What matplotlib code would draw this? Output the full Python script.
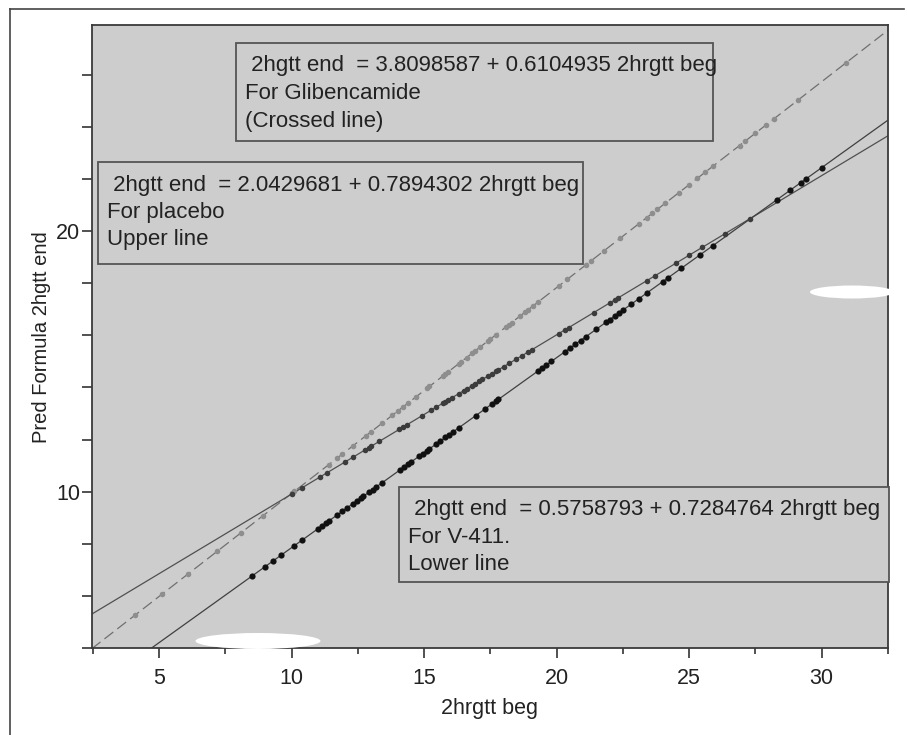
import matplotlib
matplotlib.use("Agg")
import matplotlib.pyplot as plt
from matplotlib.patches import Rectangle, Ellipse
from matplotlib.lines import Line2D
import numpy as np

plt.rcParams['font.family'] = ['Liberation Sans', 'DejaVu Sans']

coef_glib = (3.8098587, 0.6104935)
coef_placebo = (2.0429681, 0.7894302)
coef_v411 = (0.5758793, 0.7284764)

# valores de 2hrgtt beg, por grupo
x_placebo = [4.1, 5.1, 6.1, 7.2, 8.1, 8.9, 10.0, 10.1, 11.4, 11.7, 11.9, 12.3,
             12.8, 13.0, 13.4, 13.8, 14.0, 14.2, 14.4, 14.7, 15.1, 15.2, 15.7,
             15.8, 15.9, 16.3, 16.4, 16.6, 16.8, 16.9, 17.1, 17.4, 17.5, 17.7,
             18.1, 18.2, 18.3, 18.6, 18.8, 18.9, 19.1, 19.3, 20.1, 20.4, 21.1,
             21.3, 21.8, 22.4, 23.1, 23.4, 23.6, 23.8, 24.1, 24.6, 25.0, 25.3,
             25.6, 25.9, 26.9, 27.1, 27.5, 27.9, 28.2, 29.1, 30.9]
x_glib = [10.0, 10.4, 11.05, 11.35, 12.0, 12.3, 12.75, 12.9, 13.0, 13.3, 14.06,
          14.2, 14.36, 14.9, 15.26, 15.45, 15.7, 15.8, 15.9, 16.05, 16.3, 16.5,
          16.6, 16.8, 16.9, 17.07, 17.2, 17.4, 17.56, 17.7, 17.8, 18.0, 18.2,
          18.46, 18.7, 18.9, 19.06, 20.08, 20.3, 20.45, 21.4, 22.0, 22.2, 22.3,
          23.4, 23.7, 24.5, 25.0, 25.5, 26.35, 27.3]
x_v411 = [8.5, 9.0, 9.3, 9.6, 10.1, 10.4, 11.0, 11.15, 11.3, 11.4, 11.7, 11.9,
          12.07, 12.3, 12.45, 12.6, 12.7, 12.9, 13.05, 13.2, 13.4, 14.1, 14.25,
          14.4, 14.5, 14.8, 14.95, 15.1, 15.2, 15.45, 15.6, 15.8, 15.94, 16.1,
          16.3, 16.95, 17.3, 17.55, 17.7, 17.8, 19.3, 19.45, 19.6, 19.8, 20.3,
          20.5, 20.7, 20.9, 21.1, 21.5, 21.85, 22.0, 22.2, 22.35, 22.5, 22.8,
          23.1, 23.4, 24.0, 24.2, 24.7, 25.4, 25.9, 28.3, 28.8, 29.2, 29.4, 30.0]

x_ticks = [5, 10, 15, 20, 25, 30]
y_ticks = list(range(4, 28, 2))
y_labels = ['10' if t == 10 else '20' if t == 20 else '' for t in y_ticks]

caixas = [
    (" 2hgtt end  = 3.8098587 + 0.6104935 2hrgtt beg", "For Glibencamide", "(Crossed line)"),
    (" 2hgtt end  = 2.0429681 + 0.7894302 2hrgtt beg", "For placebo", "Upper line"),
    (" 2hgtt end  = 0.5758793 + 0.7284764 2hrgtt beg", "For V-411.", "Lower line"),
]


def pred(coef, xs):
    return [coef[0] + coef[1] * v for v in xs]


fig = plt.figure(figsize=(9.07, 7.35), dpi=100)
ax = fig.add_axes([0.101, 0.118, 0.878, 0.848])
fundo = '#cdcdcd'
ax.set_facecolor(fundo)
ax.set_xlim(2.45, 32.5)
ax.set_ylim(4, 27.9)

# retas de regressao
xs = np.array(ax.get_xlim())
ax.plot(xs, pred(coef_placebo, xs), color='#707070', lw=0.9, ls=(0, (9, 4)), zorder=2)
ax.plot(xs, pred(coef_glib, xs), color='#505050', lw=0.9, zorder=2)
ax.plot(xs, pred(coef_v411, xs), color='#404040', lw=0.9, zorder=2)

# pontos previstos
ax.scatter(x_placebo, pred(coef_placebo, x_placebo), s=16, color='#8e8e8e', zorder=3, lw=0)
ax.scatter(x_glib, pred(coef_glib, x_glib), s=16, color='#3c3c3c', zorder=3, lw=0)
ax.scatter(x_v411, pred(coef_v411, x_v411), s=20, color='#111111', zorder=3, lw=0)

# ticks
ax.set_xticks(x_ticks)
ax.set_xticks([t + 2.5 for t in [0] + x_ticks], minor=True)
ax.set_yticks(y_ticks)
ax.set_yticklabels(y_labels)
ax.tick_params(axis='x', which='major', length=7, width=1.2, color='#333333',
               labelsize=15.5, labelcolor='#222222', pad=7)
ax.tick_params(axis='x', which='minor', length=4, width=1.2, color='#333333')
ax.tick_params(axis='y', which='major', length=7, width=1.2, color='#333333',
               labelsize=15.5, labelcolor='#222222', pad=1)
for s in ax.spines.values():
    s.set_color('#3a3a3a')
    s.set_linewidth(1.3)

ax.set_xlabel("2hrgtt beg", fontsize=15.5, color='#222222', labelpad=7)
ax.set_ylabel("Pred Formula 2hgtt end", fontsize=14.5, color='#222222', labelpad=4)

# caixas de texto (coordenadas da figura em pixels)
W, H = 907, 735
posicoes = [(236, 43, 713, 141), (98, 162, 583, 264), (399, 487, 889, 582)]
for (x0, y0, x1, y1), linhas in zip(posicoes, caixas):
    r = Rectangle((x0 / W, 1 - y1 / H), (x1 - x0) / W, (y1 - y0) / H,
                  transform=fig.transFigure, facecolor=fundo, edgecolor='#555555',
                  lw=1.3, zorder=5)
    fig.patches.append(r)
    for i, txt in enumerate(linhas):
        fig.text((x0 + 9) / W, 1 - (y0 + 23 + 27.5 * i) / H, txt, fontsize=16,
                 color='#222222', va='center', ha='left', zorder=6)

# manchas brancas do scan
for (cx, cy, w, h) in [(258, 641, 125, 16), (852, 292, 84, 13)]:
    fig.patches.append(Ellipse((cx / W, 1 - cy / H), w / W, h / H,
                               transform=fig.transFigure, facecolor='white',
                               edgecolor='none', zorder=4))

# moldura do papel
fig.add_artist(Line2D([10 / W, 10 / W], [0, 1 - 9 / H], color='#444444', lw=1.2))
fig.add_artist(Line2D([10 / W, 904 / W], [1 - 9 / H, 1 - 9 / H], color='#444444', lw=1.2))

fig.savefig("out.png", dpi=100)
